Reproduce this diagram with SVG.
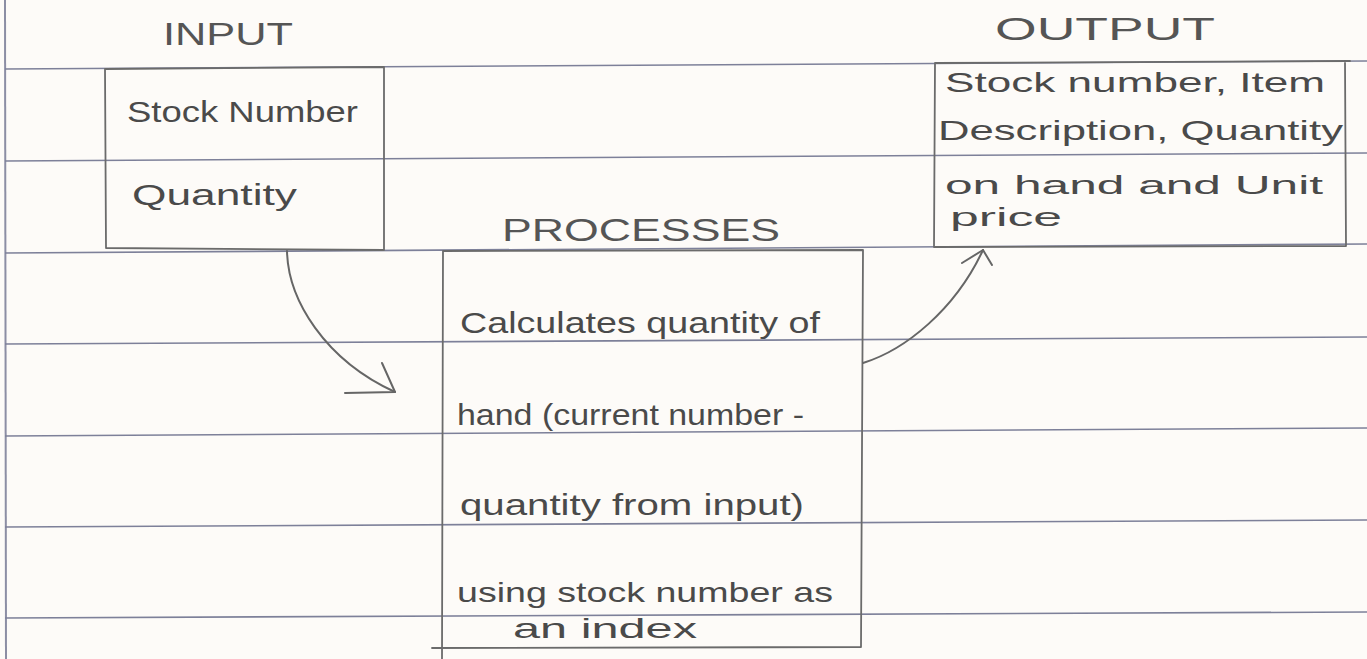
<svg xmlns="http://www.w3.org/2000/svg" width="1367" height="659" viewBox="0 0 1367 659">
  <style>
    .paper { fill: #fdfbf8; }
    .rule { stroke: #7d8099; stroke-width: 1.6; fill: none; }
    .margin { stroke: #8c8ea4; stroke-width: 2; fill: none; }
    .pen { stroke: #6b6b6b; stroke-width: 1.8; fill: none; stroke-linecap: round; stroke-linejoin: round; }
    .arrow { stroke: #666; stroke-width: 2; fill: none; stroke-linecap: round; stroke-linejoin: round; }
    .title { font-family: "Liberation Sans", "DejaVu Sans", sans-serif; font-size: 32px; fill: #555; font-weight: 300; }
    .hand { font-family: "Liberation Sans", "DejaVu Sans", sans-serif; font-size: 30px; fill: #4a4a4a; }
    .small { font-size: 28px; }
    .tiny { font-size: 25px; }
  </style>
  <rect class="paper" x="0" y="0" width="1367" height="659"/>
  <g id="paper-lines">
    <line class="margin" x1="5" y1="0" x2="6" y2="659"/>
    <line class="rule" x1="5" y1="69" x2="1367" y2="61"/>
    <line class="rule" x1="5" y1="161" x2="1367" y2="153"/>
    <line class="rule" x1="5" y1="253" x2="1367" y2="244"/>
    <line class="rule" x1="5" y1="344" x2="1367" y2="337"/>
    <line class="rule" x1="5" y1="436" x2="1367" y2="428"/>
    <line class="rule" x1="5" y1="527" x2="1367" y2="520"/>
    <line class="rule" x1="5" y1="618" x2="1367" y2="612"/>
  </g>
  <g id="input">
    <text class="title" x="163" y="45" textLength="130" lengthAdjust="spacingAndGlyphs">INPUT</text>
    <path class="pen" d="M105,69 L384,67 L384,250 L106,248 Z"/>
    <text class="hand" x="127" y="122" textLength="231" lengthAdjust="spacingAndGlyphs">Stock Number</text>
    <text class="hand" x="132" y="205" textLength="165" lengthAdjust="spacingAndGlyphs">Quantity</text>
  </g>
  <g id="processes">
    <text class="title" x="502" y="241" textLength="278" lengthAdjust="spacingAndGlyphs">PROCESSES</text>
    <path class="pen" d="M443,251 L863,250 L861,647 L432,648 M443,251 L442,659"/>
    <text class="hand" x="460" y="333" textLength="360" lengthAdjust="spacingAndGlyphs">Calculates quantity of</text>
    <text class="hand" x="457" y="425" textLength="347" lengthAdjust="spacingAndGlyphs">hand (current number -</text>
    <text class="hand" x="460" y="515" textLength="344" lengthAdjust="spacingAndGlyphs">quantity from input)</text>
    <text class="hand small" x="457" y="602" textLength="376" lengthAdjust="spacingAndGlyphs">using stock number as</text>
    <text class="hand small" x="513" y="638" textLength="184" lengthAdjust="spacingAndGlyphs">an  index</text>
  </g>
  <g id="output">
    <text class="title" x="995" y="40" textLength="220" lengthAdjust="spacingAndGlyphs">OUTPUT</text>
    <path class="pen" d="M935,63 L1350,61 M1345,62 L1346,246 L934,247 L935,63"/>
    <text class="hand small" x="945" y="92" textLength="380" lengthAdjust="spacingAndGlyphs">Stock number, Item</text>
    <text class="hand small" x="938" y="140" textLength="405" lengthAdjust="spacingAndGlyphs">Description, Quantity</text>
    <text class="hand tiny" x="945" y="194" textLength="378" lengthAdjust="spacingAndGlyphs">on hand and Unit</text>
    <text class="hand tiny" x="950" y="226" textLength="112" lengthAdjust="spacingAndGlyphs">price</text>
  </g>
  <g id="connectors">
    <path class="arrow" d="M287,251 C288,300 325,360 395,392"/>
    <path class="arrow" d="M382,363 L395,392 L345,393"/>
    <path class="arrow" d="M863,363 C905,350 955,310 983,250"/>
    <path class="arrow" d="M962,263 L983,250 L992,265"/>
  </g>
</svg>
